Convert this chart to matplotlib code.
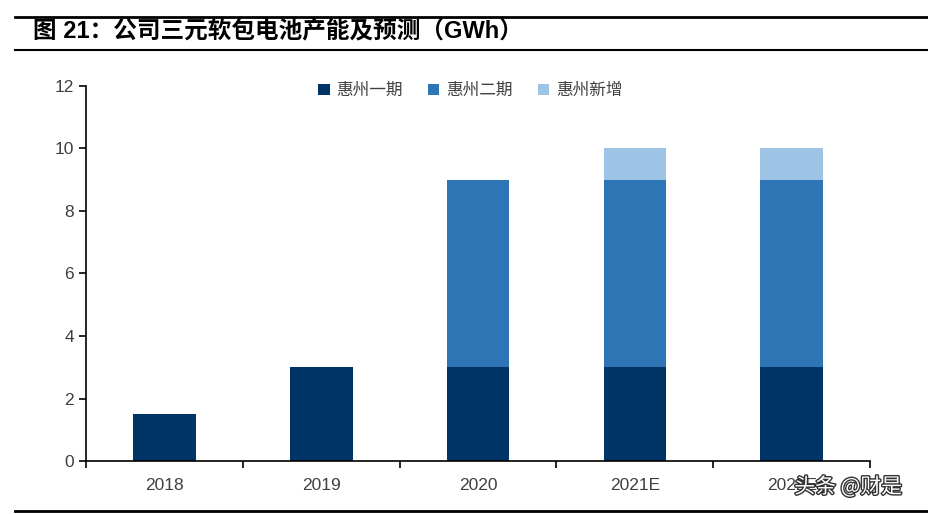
import matplotlib.pyplot as plt
import matplotlib.patheffects as pe
import numpy as np

plt.rcParams['font.family'] = ['Liberation Sans', 'Noto Sans CJK SC', 'DejaVu Sans']

years = ["2018", "2019", "2020", "2021E", "2022E"]
phase1 = [1.5, 3, 3, 3, 3]
phase2 = [0, 0, 6, 6, 6]
added = [0, 0, 0, 1, 1]

colors = ["#003466", "#2E75B6", "#9DC3E6"]
labels = ["惠州一期", "惠州二期", "惠州新增"]

fig = plt.figure(figsize=(9.29, 5.14), dpi=100)
ax = fig.add_axes([0.0926, 0.1031, 0.844, 0.7296])

x = np.arange(len(years))
w = 0.4
ax.bar(x, phase1, w, color=colors[0], label=labels[0])
ax.bar(x, phase2, w, bottom=phase1, color=colors[1], label=labels[1])
ax.bar(x, added, w, bottom=np.add(phase1, phase2), color=colors[2], label=labels[2])

ax.set_xlim(-0.5, 4.5)
ax.set_ylim(0, 12)
ax.set_yticks(range(0, 13, 2))
ax.set_xticks(x)
ax.set_xticklabels(years)
ax.set_xticks(np.arange(-0.5, 5, 1), minor=True)
ax.tick_params(axis='x', which='major', length=0, pad=12, labelsize=12.5, labelcolor='#404040')
ax.tick_params(axis='x', which='minor', length=5, width=1.2, direction='out')
ax.tick_params(axis='y', length=5, width=1.2, direction='out', labelsize=12.5, labelcolor='#404040')
for s in ['top', 'right']:
    ax.spines[s].set_visible(False)
ax.spines['left'].set_linewidth(1.2)
ax.spines['bottom'].set_linewidth(1.2)

ax.legend(loc='upper center', bbox_to_anchor=(0.49, 1.05), ncol=3, frameon=False,
          handlelength=0.7, handleheight=0.7, handletextpad=0.4, columnspacing=1.5,
          prop={'family': ['Noto Sans CJK SC'], 'size': 12}, labelcolor='#404040')

# title and rules
fig.add_artist(plt.Line2D([0.016, 1], [1 - 17 / 514, 1 - 17 / 514], color='black', lw=2))
fig.add_artist(plt.Line2D([0.016, 1], [1 - 50 / 514, 1 - 50 / 514], color='black', lw=1.5))
fig.add_artist(plt.Line2D([0.016, 1], [1 - 511 / 514, 1 - 511 / 514], color='black', lw=2))
fig.text(0.035, 1 - 32 / 514, "图 21：公司三元软包电池产能及预测（GWh）", fontsize=17,
         fontweight='bold', va='center', ha='left', family=['Liberation Sans', 'Noto Sans CJK SC'])

fig.text(0.855, 1 - 487 / 514, "头条 @财是", fontsize=15, color='white', va='center', ha='left',
         family=['Noto Sans CJK SC'],
         path_effects=[pe.withStroke(linewidth=2, foreground='#333333')])

fig.savefig("out.png", dpi=100)
